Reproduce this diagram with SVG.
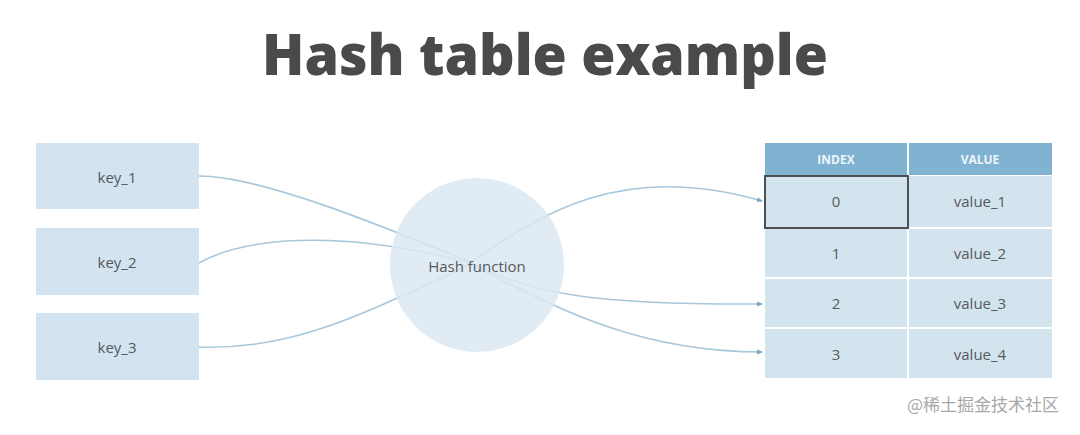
<svg xmlns="http://www.w3.org/2000/svg" width="1080" height="435" viewBox="0 0 1080 435">
<style>
.key{fill:#d3e3ef}
.lbl{font-family:"Open Sans","Liberation Sans",sans-serif;fill:#555a60;font-size:15px;text-anchor:middle;dominant-baseline:central}
.hdr{font-family:"Open Sans","Liberation Sans",sans-serif;fill:#eef5fa;font-size:12px;font-weight:700;text-anchor:middle;dominant-baseline:central}
.cell{fill:#d4e4ef}
.conn{fill:none;stroke:#a8c7db;stroke-width:1.6}
</style>
<defs>
<marker id="ah" viewBox="0 0 6 6" refX="5" refY="3" markerWidth="6" markerHeight="6" orient="auto" markerUnits="userSpaceOnUse">
<path d="M0,0.5 L6,3 L0,5.5 Z" fill="#7aa6c2"/>
</marker>
</defs>
<rect width="1080" height="435" fill="#ffffff"/>
<text x="545" y="75" font-family="'Open Sans','Liberation Sans',sans-serif" font-weight="800" font-size="57" fill="#4a4a4d" text-anchor="middle" textLength="566" lengthAdjust="spacingAndGlyphs">Hash table example</text>

<g id="connectors">
<path class="conn" d="M199,176 C260,176 380,225 470,262"/>
<path class="conn" d="M199,263 C240,240 330,226 470,263"/>
<path class="conn" d="M199,347 C290,350 350,320 470,265"/>
<path class="conn" d="M470,263 C540,215 620,160 762,201" marker-end="url(#ah)"/>
<path class="conn" d="M470,262 C530,295 600,305 762,304" marker-end="url(#ah)"/>
<path class="conn" d="M478,268 C560,310 640,352 762,352" marker-end="url(#ah)"/>
</g>

<g id="key_1"><rect class="key" x="36" y="143" width="163" height="66"/><text class="lbl" x="117" y="177">key_1</text></g>
<g id="key_2"><rect class="key" x="36" y="228" width="163" height="67"/><text class="lbl" x="117" y="262">key_2</text></g>
<g id="key_3"><rect class="key" x="36" y="313" width="163" height="67"/><text class="lbl" x="117" y="347">key_3</text></g>

<g id="hash_function">
<circle cx="477" cy="265" r="87" fill="#dce8f1" fill-opacity="0.85"/>
<text class="lbl" x="477" y="266" font-size="14">Hash function</text>
</g>

<g id="table">
<rect x="765" y="143" width="287" height="235" fill="#ffffff"/>
<rect x="765" y="143" width="142" height="32" fill="#80b2d1"/>
<rect x="909" y="143" width="143" height="32" fill="#80b2d1"/>
<text class="hdr" x="836" y="159">INDEX</text>
<text class="hdr" x="980" y="159">VALUE</text>
<rect class="cell" x="765" y="176" width="142" height="51"/>
<rect class="cell" x="909" y="176" width="143" height="51"/>
<rect class="cell" x="765" y="229" width="142" height="48"/>
<rect class="cell" x="909" y="229" width="143" height="48"/>
<rect class="cell" x="765" y="279" width="142" height="48"/>
<rect class="cell" x="909" y="279" width="143" height="48"/>
<rect class="cell" x="765" y="329" width="142" height="49"/>
<rect class="cell" x="909" y="329" width="143" height="49"/>
<rect x="765" y="176" width="143" height="52" fill="none" stroke="#4d4f52" stroke-width="2"/>
<text class="lbl" x="836" y="201" font-size="13">0</text>
<text class="lbl" x="836" y="253" font-size="13">1</text>
<text class="lbl" x="836" y="303" font-size="13">2</text>
<text class="lbl" x="836" y="354" font-size="13">3</text>
<text class="lbl" x="980" y="201">value_1</text>
<text class="lbl" x="980" y="253">value_2</text>
<text class="lbl" x="980" y="303">value_3</text>
<text class="lbl" x="980" y="354">value_4</text>
</g>

<text x="983" y="411" font-family="'Noto Sans CJK SC','Liberation Sans',sans-serif" font-size="17" fill="#a8a8a8" text-anchor="middle">@稀土掘金技术社区</text>
</svg>
